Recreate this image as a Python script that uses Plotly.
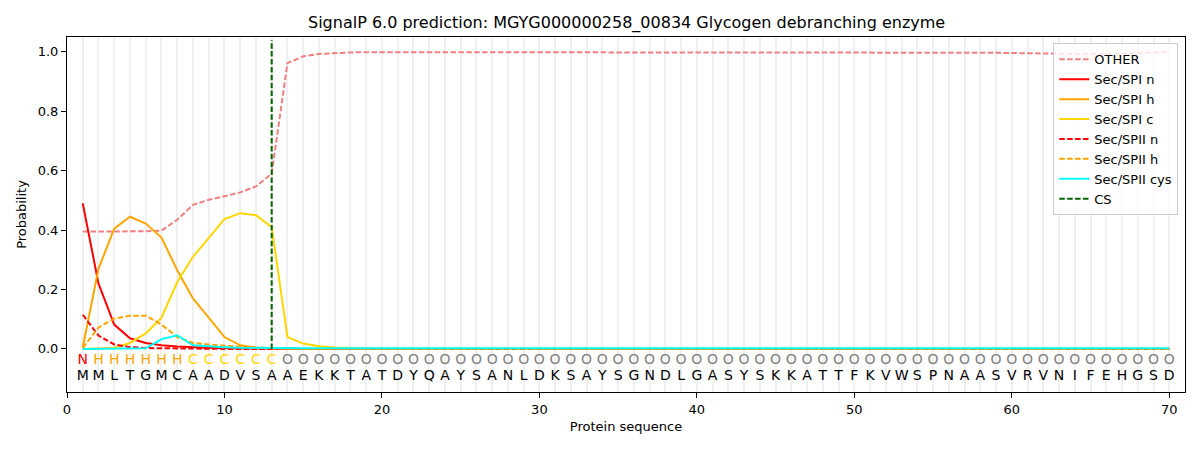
import plotly.graph_objects as go

sequence = list("MMLTGMCAADVSAAEKKTATDYQAYSANLDKSAYSGNDLGASYSKKATTFKVWSPNAASVRVNIFEHGSD")
regions = list("N" + "H" * 6 + "C" * 6 + "O" * 57)
positions = list(range(1, len(sequence) + 1))

other = [0.395, 0.395, 0.395, 0.395, 0.396, 0.398, 0.435, 0.485, 0.502, 0.514, 0.527, 0.547, 0.590,
         0.962, 0.985, 0.993, 0.996, 0.998, 0.999] + [0.999] * 35 + \
        [0.998, 0.998, 0.998, 0.997, 0.997, 0.996, 0.996, 0.995, 0.994, 0.993, 0.993, 0.993, 0.994, 0.996, 0.998, 0.999]
sp1_n = [0.490, 0.220, 0.082, 0.036, 0.020, 0.012, 0.008, 0.005, 0.004, 0.003, 0.002, 0.002, 0.001] + [0.0] * 57
sp1_h = [0.005, 0.270, 0.405, 0.445, 0.422, 0.375, 0.265, 0.170, 0.105, 0.040, 0.012, 0.005, 0.002] + [0.0] * 57
sp1_c = [0.000, 0.001, 0.004, 0.020, 0.052, 0.105, 0.225, 0.310, 0.375, 0.437, 0.457, 0.450, 0.410,
         0.040, 0.018, 0.009, 0.005, 0.003, 0.002] + [0.001] * 51
sp2_n = [0.115, 0.045, 0.015, 0.006, 0.003, 0.002, 0.001] + [0.0] * 63
sp2_h = [0.003, 0.072, 0.102, 0.112, 0.112, 0.082, 0.040, 0.020, 0.015, 0.010, 0.007, 0.004, 0.002] + [0.001] * 57
sp2_cys = [0.0, 0.0, 0.0, 0.0, 0.002, 0.033, 0.046, 0.012, 0.008, 0.006, 0.004, 0.003, 0.002] + [0.002] * 57
cs_pos = 13

region_colors = {"N": "red", "H": "orange", "C": "gold", "O": "grey"}

fig = go.Figure()

def dash_style(d):
    return "5.5px,2.4px" if d else "solid"

series = [
    ("OTHER", other, "lightcoral", True),
    ("Sec/SPI n", sp1_n, "red", False),
    ("Sec/SPI h", sp1_h, "orange", False),
    ("Sec/SPI c", sp1_c, "gold", False),
    ("Sec/SPII n", sp2_n, "red", True),
    ("Sec/SPII h", sp2_h, "orange", True),
    ("Sec/SPII cys", sp2_cys, "cyan", False),
]
for name, vals, color, dashed in series:
    fig.add_trace(go.Scatter(x=positions, y=vals, mode="lines", name=name,
                             line=dict(color=color, width=2, dash=dash_style(dashed))))

fig.add_trace(go.Scatter(x=[cs_pos, cs_pos], y=[0, 1.04], mode="lines", name="CS",
                         line=dict(color="darkgreen", width=2, dash=dash_style(True))))

fig.add_trace(go.Scatter(x=positions, y=[-0.04] * len(positions), mode="text", text=regions,
                         textfont=dict(color=[region_colors[r] for r in regions], size=14,
                                       family="DejaVu Sans"),
                         showlegend=False, hoverinfo="skip"))
fig.add_trace(go.Scatter(x=positions, y=[-0.094] * len(positions), mode="text", text=sequence,
                         textfont=dict(color="black", size=14, family="DejaVu Sans"),
                         showlegend=False, hoverinfo="skip"))

fig.update_layout(
    width=1192, height=442,
    margin=dict(l=59, r=15, t=29, b=58, autoexpand=False),
    plot_bgcolor="white", paper_bgcolor="white",
    font=dict(family="DejaVu Sans", size=13, color="black"),
    annotations=[dict(text="SignalP 6.0 prediction: MGYG000000258_00834 Glycogen debranching enzyme",
                      x=0.5, xref="paper", y=1 + 14 / 355, yref="paper", xanchor="center",
                      yanchor="middle", showarrow=False, font=dict(size=16))],
    legend=dict(x=0.994, y=0.982, xanchor="right", yanchor="top",
                bgcolor="rgba(255,255,255,0.8)", bordercolor="#cccccc", borderwidth=1,
                font=dict(size=13), tracegroupgap=0, itemwidth=30),
    showlegend=True,
)
fig.update_xaxes(range=[0, 71], tickvals=[0, 10, 20, 30, 40, 50, 60, 70],
                 showgrid=True, gridcolor="#f0f0f0", gridwidth=1.5,
                 minor=dict(dtick=1, tick0=0, showgrid=True, gridcolor="#f0f0f0", gridwidth=1.5),
                 showline=True, linecolor="black", linewidth=1, mirror=True, automargin=False,
                 ticks="outside", ticklen=5, tickcolor="black", zeroline=False,
                 tickfont=dict(size=13),
                 title=dict(text="Protein sequence", standoff=6, font=dict(size=13)))
fig.update_yaxes(range=[-0.145, 1.05], tickvals=[0, 0.2, 0.4, 0.6, 0.8, 1.0],
                 ticktext=["0.0", "0.2", "0.4", "0.6", "0.8", "1.0"],
                 showgrid=False, zeroline=False, automargin=False,
                 showline=True, linecolor="black", linewidth=1, mirror=True,
                 ticks="outside", ticklen=5, tickcolor="black", tickfont=dict(size=13),
                 title=dict(text="Probability", standoff=8, font=dict(size=13)))

fig.write_html("out.html")
